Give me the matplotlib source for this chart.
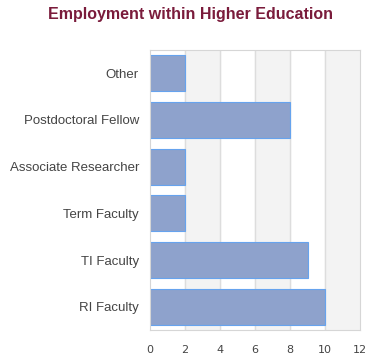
import matplotlib
matplotlib.use("Agg")
import matplotlib.pyplot as plt

categories = ["RI Faculty", "TI Faculty", "Term Faculty", "Associate Researcher",
              "Postdoctoral Fellow", "Other"]
counts = [10, 9, 2, 2, 8, 2]
xticks = [0, 2, 4, 6, 8, 10, 12]

plt.rcParams['font.family'] = ['Liberation Sans', 'DejaVu Sans']

fig = plt.figure(figsize=(3.8, 3.6), dpi=100)
ax = fig.add_axes([150 / 380, 30 / 360, 210 / 380, 280 / 360])

# alternating background bands
for i in range(len(xticks) - 1):
    if i % 2 == 1:
        ax.axvspan(xticks[i], xticks[i + 1], color="#f3f3f3", zorder=0)
for x in xticks[1:-1]:
    ax.axvline(x, color="#dddddd", lw=1, zorder=1)

ax.barh(range(len(categories)), counts, height=0.77, color="#8ea2cc",
        edgecolor="#66a3ee", linewidth=0.8, zorder=2)

ax.set_xlim(0, 12)
ax.set_ylim(-0.5, len(categories) - 0.5)
ax.set_xticks(xticks)
ax.set_xticklabels([str(t) for t in xticks], family="DejaVu Sans")
ax.set_yticks(range(len(categories)))
ax.set_yticklabels(categories)
ax.tick_params(axis="both", length=0, colors="#444444")
ax.tick_params(axis="y", pad=8, labelsize=9.5)
ax.tick_params(axis="x", pad=11, labelsize=8)
for s in ax.spines.values():
    s.set_color("#d6d6d6")

fig.text(0.5, 1 - 14 / 360, "Employment within Higher Education", ha="center",
         va="center", fontsize=11.5, fontweight="bold", color="#7a1b3b")

fig.savefig("out.png", dpi=100)
